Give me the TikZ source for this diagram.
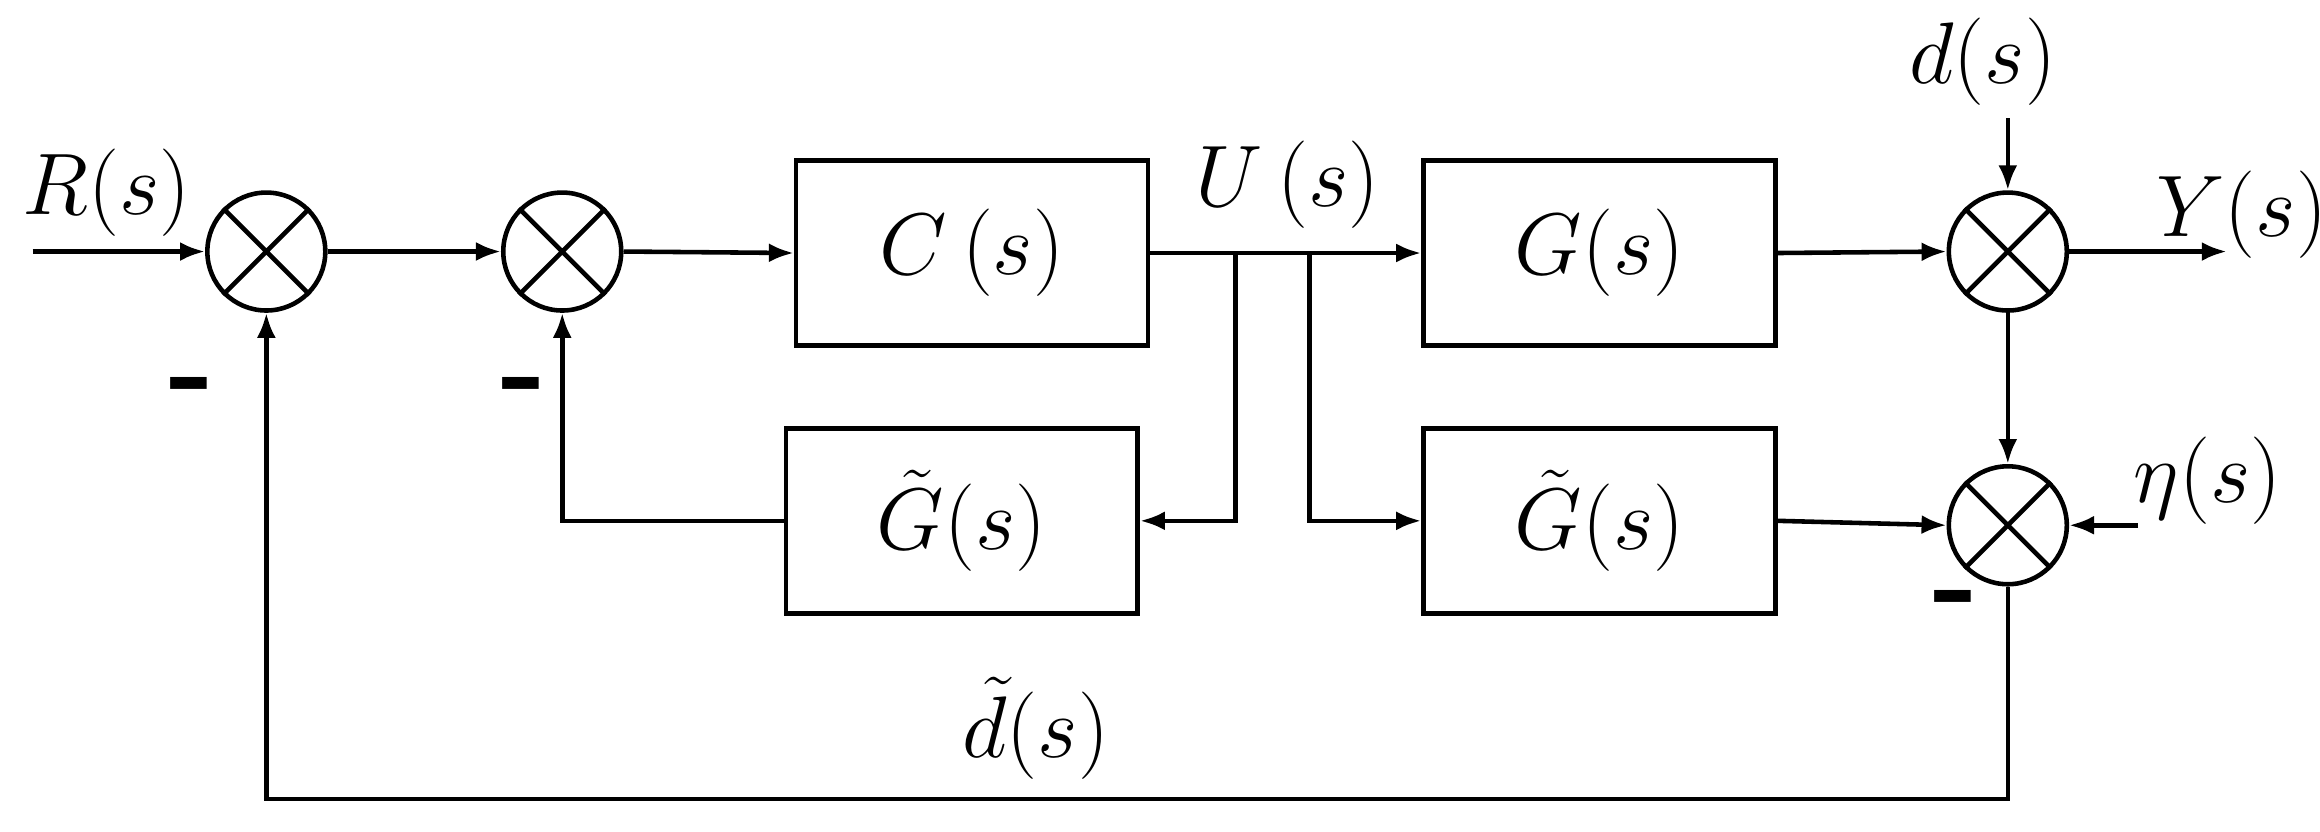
\documentclass[tikz,border=0pt]{standalone}
\usepackage{fontspec}
\setmainfont{Liberation Serif}
\usetikzlibrary{arrows.meta}
\begin{document}
\begin{tikzpicture}[x=0.014796cm,y=-0.014796cm,line width=1.3pt,
  sum/.style={circle,draw,minimum size=1.18cm,inner sep=0},
  blk/.style={draw,minimum width=3.52cm,minimum height=1.85cm,font=\fontsize{32}{38}\selectfont},
  lbl/.style={font=\fontsize{24}{28}\selectfont},
  minus/.style={font=\fontsize{40}{40}\selectfont\bfseries},
  >={Latex[length=0.25cm,width=0.19cm]}]
\useasboundingbox (0,0) rectangle (1568,562);
\node[sum] (s1) at (180,170) {};
\node[sum] (s2) at (380,170) {};
\node[sum] (s3) at (1357,170) {};
\node[sum] (s4) at (1357,355) {};
\foreach \s in {s1,s2,s3,s4}{\draw (\s.north west)--(\s.south east) (\s.north east)--(\s.south west);}
\node[blk] (c) at (657,171) {$C\,(s)$};
\node[blk] (g) at (1081,171) {$G(s)$};
\node[blk] (gt1) at (650,352) {$\tilde G(s)$};
\node[blk] (gt2) at (1081,352) {$\tilde G(s)$};
\coordinate (in) at (22,170);
\coordinate (out) at (1505,170);
\coordinate (dtop) at (1357,80);
\coordinate (eta) at (1445,355);
\coordinate (b1) at (835,171);
\coordinate (b2) at (885,171);
\coordinate (bot) at (1357,540);
\draw[->] (in)--(s1.west);
\draw[->] (s1.east)--(s2.west);
\draw[->] (s2.east)--(c.west);
\draw[->] (c.east)--(g.west);
\draw[->] (b1)|-(gt1.east);
\draw[->] (b2)|-(gt2.west);
\draw[->] (gt1.west)-|(s2.south);
\draw[->] (g.east)--(s3.west);
\draw[->] (s3.east)--(out);
\draw[->] (dtop)--(s3.north);
\draw[->] (s3.south)--(s4.north);
\draw[->] (gt2.east)--(s4.west);
\draw[->] (eta)--(s4.east);
\draw[->] (s4.south)--(bot)-|(s1.south);
\node[lbl] (lr) at (72,130) {$R(s)$};
\node[lbl] (lu) at (870,125) {$U\,(s)$};
\node[lbl] (ly) at (1515,145) {$Y(s)$};
\node[lbl] (ld) at (1340,42) {$d(s)$};
\node[lbl] (le) at (1492,325) {$\eta(s)$};
\node[lbl] (ldt) at (700,492) {$\tilde d(s)$};
\node[minus] (m1) at (128,268) {-};
\node[minus] (m2) at (352,268) {-};
\node[minus] (m3) at (1320,412) {-};
\end{tikzpicture}
\end{document}
